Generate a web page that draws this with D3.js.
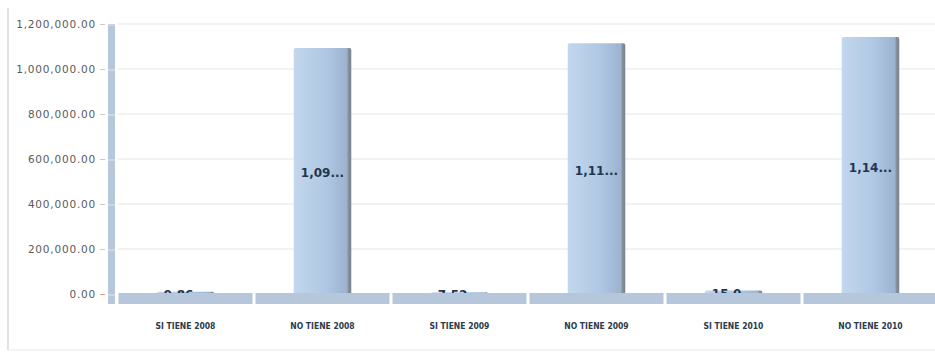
<!DOCTYPE html>
<html>
<head>
<meta charset="utf-8">
<script src="https://cdn.jsdelivr.net/npm/d3@7"></script>
<style>
  body { margin: 0; background: #fff; }
  .ytick { font-family: "DejaVu Sans", Verdana, sans-serif; font-size: 10.5px; fill: #5a5a5a; letter-spacing: 0.8px; }
  .cat { font-family: "DejaVu Sans Condensed", "DejaVu Sans", sans-serif; font-size: 8.5px; font-weight: bold; fill: #2c3b4a; }
  .val { font-family: "DejaVu Sans", Verdana, sans-serif; font-size: 12px; font-weight: bold; fill: #1f3550; }
</style>
</head>
<body>
<div id="chart"></div>
<script>
const w = 935;
const h = 354;

// data
const categories = ["SI TIENE 2008", "NO TIENE 2008", "SI TIENE 2009", "NO TIENE 2009", "SI TIENE 2010", "NO TIENE 2010"];
const values = [9860, 1093000, 7520, 1115000, 15030, 1142000];
const yTicks = [0, 200000, 400000, 600000, 800000, 1000000, 1200000];

const svg = d3.select("#chart")
.append('svg')
.attr('width', w)
.attr('height', h);

//gradient for the bars
const defs = svg.append('defs');
const grad = defs.append('linearGradient').attr('id', 'barGrad')
.attr('x1', '0%').attr('x2', '100%').attr('y1', '0%').attr('y2', '0%');
grad.append('stop').attr('offset', '0%').attr('stop-color', '#c3d7ee');
grad.append('stop').attr('offset', '55%').attr('stop-color', '#b0c8e3');
grad.append('stop').attr('offset', '93%').attr('stop-color', '#9bb3cf');
grad.append('stop').attr('offset', '94%').attr('stop-color', '#86949f');
grad.append('stop').attr('offset', '100%').attr('stop-color', '#77838f');

//scales
const xScale = d3.scaleBand()
.domain(categories)
.range([117, 939]);
const yScale = d3.scaleLinear()
.domain([0, 1200000])
.range([294, 24]);

//outer frame
svg.append('line')
.attr('x1', 8).attr('x2', 8).attr('y1', 8).attr('y2', 350)
.attr('stroke', '#d9d9d9').attr('stroke-width', 1.5);
svg.append('line')
.attr('x1', 8).attr('x2', w).attr('y1', 350).attr('y2', 350)
.attr('stroke', '#f0f0f0').attr('stroke-width', 1.5);

//gridlines
svg.append('g')
.selectAll('line')
.data(yTicks.slice(1))
.enter()
.append('line')
.attr('x1', 118).attr('x2', w)
.attr('y1', d => yScale(d)).attr('y2', d => yScale(d))
.attr('stroke', '#eeeeee').attr('stroke-width', 1.5);

//y axis labels
const yAxis = d3.axisLeft(yScale)
.tickValues(yTicks)
.tickFormat(d3.format(',.2f'))
.tickSize(5)
.tickPadding(4);
const gy = svg.append('g')
.attr('transform', 'translate(105,0)')
.call(yAxis);
gy.select('.domain').remove();
gy.selectAll('.tick line').attr('stroke', '#c8c8c8');
gy.selectAll('.tick').filter(d => d === 0).select('line').attr('stroke', '#e0a080');
gy.selectAll('.tick text').attr('class', 'ytick').attr('fill', null);

//wall
svg.append('rect')
.attr('x', 108).attr('y', yScale(1200000))
.attr('width', 7).attr('height', 304 - yScale(1200000))
.attr('fill', '#b6c7db');
svg.append('g')
.selectAll('line')
.data(yTicks)
.enter()
.append('line')
.attr('x1', 108).attr('x2', 115)
.attr('y1', d => yScale(d) + 1).attr('y2', d => yScale(d) + 1)
.attr('stroke', '#dfe7f0').attr('stroke-width', 1);

//bars
const barW = xScale.bandwidth() * 0.42;
const barX = d => xScale(d) + (xScale.bandwidth() - barW) / 2;
svg.append('g')
.selectAll('.bar')
.data(values)
.enter()
.append('rect')
.attr('class', 'bar')
.attr('x', (d, i) => barX(categories[i]))
.attr('y', d => yScale(d))
.attr('width', barW)
.attr('height', d => yScale(0) - yScale(d) + 4)
.attr('rx', 2)
.attr('fill', 'url(#barGrad)');

//value labels: cut to 4 characters like the original
const shortLabel = d => d3.format(',')(d).slice(0, 4) + '...';
const labelY = d => (yScale(d) + yScale(0)) / 2 + 4;
svg.append('g')
.selectAll('text')
.data(values.filter(d => d < 100000))
.enter()
.append('text')
.attr('class', 'val')
.attr('x', d => xScale(categories[values.indexOf(d)]) + xScale.bandwidth() / 2)
.attr('y', d => labelY(d) + 2)
.attr('text-anchor', 'middle')
.text(shortLabel);

//floor
svg.append('g')
.selectAll('rect')
.data(categories)
.enter()
.append('rect')
.attr('x', d => xScale(d) + 1.5)
.attr('y', 293)
.attr('width', xScale.bandwidth() - 3)
.attr('height', 11)
.attr('fill', '#b7c7db');

//big value labels on top
svg.append('g')
.selectAll('text')
.data(values.filter(d => d >= 100000))
.enter()
.append('text')
.attr('class', 'val')
.attr('x', d => xScale(categories[values.indexOf(d)]) + xScale.bandwidth() / 2)
.attr('y', d => labelY(d) + 2)
.attr('text-anchor', 'middle')
.text(shortLabel);

//category labels
svg.append('g')
.selectAll('.cat')
.data(categories)
.enter()
.append('text')
.attr('class', 'cat')
.attr('x', d => xScale(d) + xScale.bandwidth() / 2)
.attr('y', 329)
.attr('text-anchor', 'middle')
.text(d => d);
</script>
</body>
</html>
